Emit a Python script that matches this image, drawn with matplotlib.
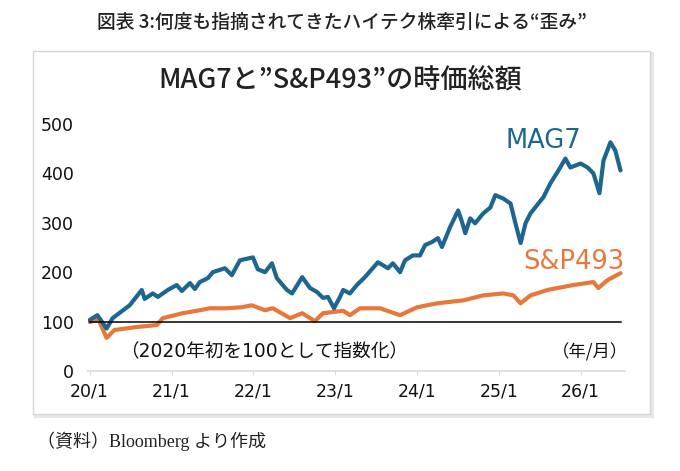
import pandas as pd
import matplotlib
matplotlib.use('Agg')
import matplotlib.pyplot as plt
from matplotlib.patches import Rectangle

plt.rcParams['font.family'] = ['Noto Sans CJK JP', 'DejaVu Sans']
latin_first = ['DejaVu Sans', 'Noto Sans CJK JP']

# MAG7 market cap index (2020 start = 100)
mag7_dates = ['2020-01-01', '2020-02-05', '2020-03-17', '2020-04-13', '2020-06-28', '2020-08-21',
              '2020-09-03', '2020-10-09', '2020-11-01', '2020-12-15', '2021-01-24', '2021-02-16',
              '2021-03-24', '2021-04-15', '2021-05-07', '2021-06-12', '2021-07-04', '2021-08-27',
              '2021-09-27', '2021-11-02', '2021-12-30', '2022-01-21', '2022-02-22', '2022-03-25',
              '2022-04-16', '2022-05-31', '2022-06-23', '2022-08-07', '2022-09-11', '2022-10-12',
              '2022-11-08', '2022-11-30', '2022-12-27', '2023-01-23', '2023-02-06', '2023-03-08',
              '2023-04-08', '2023-05-14', '2023-07-11', '2023-08-03', '2023-08-25', '2023-09-16',
              '2023-10-18', '2023-11-09', '2023-12-14', '2024-01-15', '2024-02-07', '2024-03-08',
              '2024-04-04', '2024-04-22', '2024-05-28', '2024-07-03', '2024-07-21', '2024-08-04',
              '2024-08-26', '2024-09-17', '2024-10-23', '2024-11-24', '2024-12-16', '2025-01-21',
              '2025-02-22', '2025-03-16', '2025-04-08', '2025-04-30', '2025-05-22', '2025-07-19',
              '2025-08-19', '2025-09-24', '2025-10-25', '2025-11-16', '2026-01-01', '2026-02-01',
              '2026-02-27', '2026-03-26', '2026-04-13', '2026-05-14', '2026-06-05', '2026-06-28']
mag7 = [103, 113, 86, 107, 133, 164,
        146, 157, 150, 164, 174, 162,
        178, 166, 180, 188, 200, 208,
        194, 224, 230, 206, 200, 218,
        188, 164, 157, 190, 168, 160,
        148, 150, 127, 150, 164, 157,
        174, 190, 220, 214, 208, 218,
        200, 224, 234, 234, 255, 261,
        269, 251, 291, 325, 301, 279,
        309, 299, 319, 331, 356, 349,
        339, 299, 259, 299, 319, 352,
        380, 406, 430, 412, 420, 412,
        400, 360, 426, 463, 446, 406]

# S&P493 market cap index
sp493_dates = ['2020-01-01', '2020-02-10', '2020-03-17', '2020-04-21', '2020-07-29', '2020-10-27',
               '2020-11-23', '2021-02-20', '2021-05-07', '2021-06-20', '2021-09-04', '2021-11-10',
               '2021-12-25', '2022-02-22', '2022-03-29', '2022-06-14', '2022-08-07', '2022-10-03',
               '2022-11-08', '2023-02-06', '2023-03-08', '2023-04-22', '2023-07-20', '2023-10-18',
               '2024-01-02', '2024-03-31', '2024-07-26', '2024-10-23', '2025-01-21', '2025-03-07',
               '2025-04-08', '2025-05-22', '2025-08-06', '2025-11-29', '2026-02-27', '2026-03-21',
               '2026-05-01', '2026-06-28']
sp493 = [99, 104, 67, 83, 89, 93,
         107, 117, 123, 127, 127, 129,
         133, 123, 127, 107, 117, 101,
         117, 122, 113, 127, 127, 113,
         129, 137, 143, 153, 157, 153,
         137, 153, 164, 174, 180, 168,
         184, 198]

year_ticks = ['2020-01-01', '2021-01-01', '2022-01-01', '2023-01-01',
              '2024-01-01', '2025-01-01', '2026-01-01']
year_labels = ['20/1', '21/1', '22/1', '23/1', '24/1', '25/1', '26/1']
y_ticks = [0, 100, 200, 300, 400, 500]

blue = '#1c6690'
orange = '#e8783a'

fig = plt.figure(figsize=(6.8, 4.71), dpi=100)
W, H = 680, 471

# outer frame (behind the axes)
fig.patches.append(Rectangle((35 / W, 1 - 416 / H), 617 / W, 363 / H, transform=fig.transFigure,
                             facecolor='none', edgecolor='#e6e6e6', lw=2.0, zorder=-2))
fig.patches.append(Rectangle((33 / W, 1 - 414 / H), 617 / W, 363 / H, transform=fig.transFigure,
                             facecolor='white', edgecolor='#d6d6d6', lw=1.0, zorder=-1))

fig.text(342 / W, 1 - 22 / H, '図表 3:何度も指摘されてきたハイテク株牽引による“歪み”',
         ha='center', va='center', fontsize=13.5, fontweight='medium', color='#222222')
fig.text(340 / W, 1 - 80 / H, 'MAG7と”S&P493”の時価総額',
         ha='center', va='center', fontsize=19.5, fontweight='medium', color='#222222')
fig.text(37 / W, 1 - 441 / H, '（資料）Bloomberg より作成', ha='left', va='center',
         fontsize=13, color='#222222', family=['Liberation Serif', 'Noto Sans CJK JP'])

ax = fig.add_axes([88 / W, 100 / H, 537 / W, 247 / H])
ax.patch.set_alpha(0)

d_mag = pd.to_datetime(mag7_dates)
d_sp = pd.to_datetime(sp493_dates)
ax.plot(d_sp, sp493, color=orange, lw=3, solid_joinstyle='round', solid_capstyle='round', zorder=2)
ax.plot(d_mag, mag7, color=blue, lw=3, solid_joinstyle='round', solid_capstyle='round', zorder=3)
ax.plot([d_mag[0], d_mag[-1]], [100, 100], color='black', lw=1.1, zorder=4)

ax.set_xlim(pd.Timestamp('2019-12-25'), pd.Timestamp('2026-07-18'))
ax.set_ylim(0, 500)
ax.set_xticks(pd.to_datetime(year_ticks))
ax.set_xticklabels(year_labels)
ax.set_yticks(y_ticks)
for s in ['top', 'right', 'left']:
    ax.spines[s].set_visible(False)
ax.spines['bottom'].set_color('#d9d9d9')
ax.spines['bottom'].set_linewidth(1.2)
ax.tick_params(axis='x', length=3, color='#d9d9d9', pad=5, labelsize=12.5, labelcolor='#111111',
               labelfontfamily='DejaVu Sans')
ax.tick_params(axis='y', length=0, pad=10, labelsize=12.5, labelcolor='#111111',
               labelfontfamily='DejaVu Sans')

ax.text(pd.Timestamp('2025-07-20'), 465, 'MAG7', color=blue, fontsize=18.5, family=latin_first,
        ha='center', va='center')
ax.text(pd.Timestamp('2025-12-01'), 221, 'S&P493', color=orange, fontsize=18.5, family=latin_first,
        ha='center', va='center')
fig.text(120 / W, 1 - 352 / H, '（2020年初を100として指数化）', ha='left', va='center',
         fontsize=13.4, color='#111111', family=latin_first)
fig.text(628 / W, 1 - 352 / H, '（年/月）', ha='right', va='center', fontsize=12.5, color='#111111')

fig.savefig('out.png', dpi=100)
